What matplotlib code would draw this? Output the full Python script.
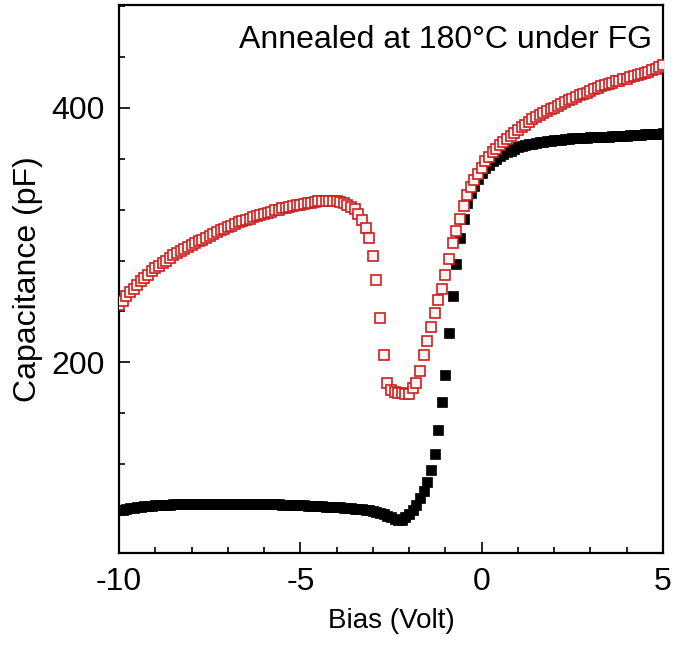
import numpy as np
import matplotlib
matplotlib.use("Agg")
import matplotlib.pyplot as plt
from matplotlib.ticker import MultipleLocator

# bias sweep, 0.1 V steps from -10 V to 5 V
bias = np.linspace(-10, 5, 151)

# forward sweep (filled black squares)
cap_black = [
    83.5, 84, 84.5, 85, 85.5, 86, 86.3, 86.6, 87, 87.2,
    87.4, 87.6, 87.8, 88, 88.1, 88.2, 88.3, 88.4, 88.5, 88.5,
    88.6, 88.6, 88.7, 88.7, 88.7, 88.8, 88.8, 88.8, 88.8, 88.8,
    88.8, 88.8, 88.8, 88.8, 88.8, 88.7, 88.7, 88.7, 88.6, 88.6,
    88.5, 88.5, 88.4, 88.3, 88.2, 88.1, 88, 87.9, 87.8, 87.7,
    87.6, 87.4, 87.3, 87.1, 87, 86.8, 86.6, 86.4, 86.3, 86.1,
    86, 85.8, 85.6, 85.4, 85.2, 84.9, 84.6, 84.3, 84, 83.5,
    83, 82.3, 81.5, 80.5, 79.3, 78, 76.5, 75.6, 76.3, 78.5,
    81, 84, 88, 93, 99, 105.5, 115, 128, 146.5, 169,
    190, 223, 252, 277, 297.5, 313, 325, 333, 339, 344,
    349, 352.5, 355.5, 358, 360, 362, 363.5, 365, 366.5, 368,
    369, 370, 371, 371.5, 372, 372.5, 373, 373.5, 374, 374.3,
    374.6, 375, 375.2, 375.5, 375.8, 376, 376.2, 376.3, 376.5, 376.7,
    376.8, 377, 377.1, 377.3, 377.4, 377.5, 377.7, 377.8, 378, 378.1,
    378.3, 378.5, 378.6, 378.8, 379, 379.2, 379.3, 379.5, 379.7, 379.8,
    380,
]

# after annealing at 180 C under FG (open red squares)
cap_red = [
    245, 248.5, 252, 255, 258, 261, 264, 266.5, 269, 271.5,
    274, 276, 278, 280, 282, 284, 286, 287.5, 289, 290.5,
    292, 293.5, 295, 296.5, 298, 299.5, 301, 302.5, 304, 305,
    306.5, 307.5, 309, 310, 311, 312, 313, 314, 315, 316,
    317, 317.5, 318.5, 319.5, 320, 321, 321.5, 322, 323, 323.5,
    324, 324.5, 325, 325.5, 326, 326.5, 327, 327, 327, 327,
    326.5, 326, 325, 324, 322.5, 320.5, 317, 312, 305.5, 298,
    283.5, 265, 235, 206, 184, 178, 176.5, 175.5, 175.5, 175,
    175, 179.5, 184, 193.5, 206, 216.5, 227.5, 238.5, 249, 258,
    269, 281, 293.5, 303, 313, 323, 331.5, 338, 343, 348,
    353, 358, 361.5, 365, 368, 370.5, 373, 375.5, 378, 380.5,
    383, 385, 387, 389, 391, 393, 394.5, 396, 397.5, 399,
    400, 401.5, 403, 404.5, 406, 407, 408.5, 410, 411, 412,
    413.5, 415, 416, 417, 418, 419, 420, 421, 421.5, 422.5,
    423, 424, 425, 426, 427, 427.5, 428.5, 429.5, 430.5, 432,
    434,
]

plt.rcParams['font.family'] = ['Liberation Sans', 'DejaVu Sans']
plt.rcParams['axes.unicode_minus'] = False

fig = plt.figure(figsize=(6.75, 6.47), dpi=100)
ax = fig.add_axes([0.1763, 0.1453, 0.8059, 0.847])

ax.plot(bias, cap_black, ls='none', marker='s', ms=7.3, mfc='black',
        mec='black', mew=0.5, zorder=2)
ax.plot(bias, cap_red, ls='none', marker='s', ms=7.6, mfc='#fff4f4',
        mec='#cc1f1f', mew=1.2, zorder=3)

ax.set_xlim(-10, 5)
ax.set_ylim(50, 481)
ax.xaxis.set_major_locator(MultipleLocator(5))
ax.xaxis.set_minor_locator(MultipleLocator(1))
ax.yaxis.set_major_locator(MultipleLocator(200))
ax.yaxis.set_minor_locator(MultipleLocator(40))

ax.tick_params(which='both', direction='in', top=False, right=False,
               labelsize=23, width=1.2, pad=10)
ax.tick_params(which='major', length=8)
ax.tick_params(which='minor', length=4.5)
for sp in ax.spines.values():
    sp.set_linewidth(1.6)

ax.set_xlabel('Bias (Volt)', fontsize=20, labelpad=8)
ax.set_ylabel('Capacitance (pF)', fontsize=23, labelpad=6)

ax.text(0.98, 0.936, 'Annealed at 180°C under FG', transform=ax.transAxes,
        ha='right', va='center', fontsize=23)

fig.savefig('out.png', dpi=100)
